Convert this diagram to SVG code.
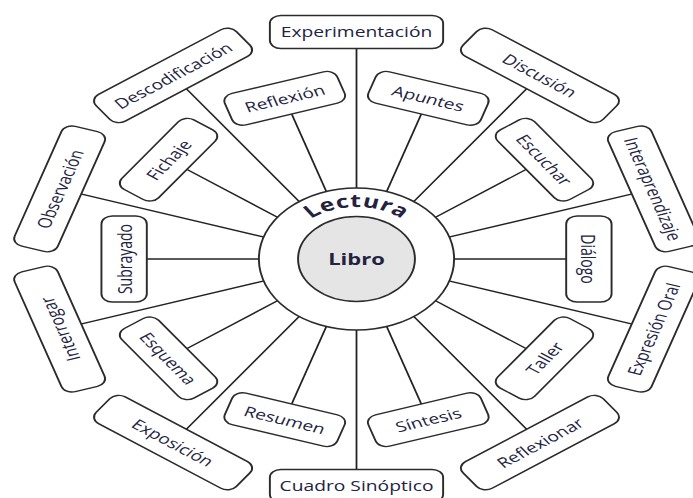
<svg xmlns="http://www.w3.org/2000/svg" width="693" height="498" viewBox="0 0 693 498">
<style>
.box{fill:#fff;stroke:#2b2b2b;stroke-width:1.4}
.t{font-family:"Open Sans","Noto Sans","DejaVu Sans",sans-serif;font-size:14px;fill:#23233f;text-anchor:middle;dominant-baseline:central}
.ln{stroke:#222;stroke-width:1.3;fill:none}
.ring{fill:#fff;stroke:#2b2b2b;stroke-width:1.4}
.core{fill:#e5e5e5;stroke:#2b2b2b;stroke-width:1.4}
.bold{font-family:"Open Sans","Noto Sans","DejaVu Sans",sans-serif;font-weight:bold;fill:#23233f}
</style>
<defs>
<rect id="lg" class="box" x="-63" y="-16.5" width="126" height="33" rx="8"/>
<rect id="sm" class="box" x="-43" y="-16.5" width="86" height="33" rx="8"/>
<path id="arc" d="M -52,0 A 52,52 0 0 1 52,0"/>
</defs>
<rect width="693" height="498" fill="#fff"/>
<g transform="translate(356.5,259) scale(1.375,1)">
<g id="connectors" class="ln">
<line x1="60" y1="0" x2="215" y2="0" transform="rotate(270)"/>
<line x1="60" y1="0" x2="215" y2="0" transform="rotate(306)"/>
<line x1="60" y1="0" x2="215" y2="0" transform="rotate(342)"/>
<line x1="60" y1="0" x2="215" y2="0" transform="rotate(18)"/>
<line x1="60" y1="0" x2="215" y2="0" transform="rotate(54)"/>
<line x1="60" y1="0" x2="215" y2="0" transform="rotate(90)"/>
<line x1="60" y1="0" x2="215" y2="0" transform="rotate(126)"/>
<line x1="60" y1="0" x2="215" y2="0" transform="rotate(162)"/>
<line x1="60" y1="0" x2="215" y2="0" transform="rotate(198)"/>
<line x1="60" y1="0" x2="215" y2="0" transform="rotate(234)"/>
<line x1="60" y1="0" x2="157" y2="0" transform="rotate(288)"/>
<line x1="60" y1="0" x2="157" y2="0" transform="rotate(324)"/>
<line x1="60" y1="0" x2="157" y2="0" transform="rotate(0)"/>
<line x1="60" y1="0" x2="157" y2="0" transform="rotate(36)"/>
<line x1="60" y1="0" x2="157" y2="0" transform="rotate(72)"/>
<line x1="60" y1="0" x2="157" y2="0" transform="rotate(108)"/>
<line x1="60" y1="0" x2="157" y2="0" transform="rotate(144)"/>
<line x1="60" y1="0" x2="157" y2="0" transform="rotate(180)"/>
<line x1="60" y1="0" x2="157" y2="0" transform="rotate(216)"/>
<line x1="60" y1="0" x2="157" y2="0" transform="rotate(252)"/>
</g>
<g id="experimentacion" transform="translate(0,-227)"><use href="#lg"/><text class="t">Experimentación</text></g>
<g id="discusion" transform="translate(133.4,-183.6) rotate(36)"><use href="#lg"/><text class="t">Discusión</text></g>
<g id="interaprendizaje" transform="translate(215.9,-70.1) rotate(72)"><use href="#lg"/><text class="t">Interaprendizaje</text></g>
<g id="expresion-oral" transform="translate(215.9,70.1) rotate(-72)"><use href="#lg"/><text class="t">Expresión Oral</text></g>
<g id="reflexionar" transform="translate(133.4,183.6) rotate(-36)"><use href="#lg"/><text class="t">Reflexionar</text></g>
<g id="cuadro-sinoptico" transform="translate(0,227)"><use href="#lg"/><text class="t">Cuadro Sinóptico</text></g>
<g id="exposicion" transform="translate(-133.4,183.6) rotate(36)"><use href="#lg"/><text class="t">Exposición</text></g>
<g id="interrogar" transform="translate(-215.9,70.1) rotate(-108)"><use href="#lg"/><text class="t">Interrogar</text></g>
<g id="observacion" transform="translate(-215.9,-70.1) rotate(-72)"><use href="#lg"/><text class="t">Observación</text></g>
<g id="descodificacion" transform="translate(-133.4,-183.6) rotate(-36)"><use href="#lg"/><text class="t">Descodificación</text></g>
<g id="apuntes" transform="translate(52.2,-160.7) rotate(18)"><use href="#sm"/><text class="t">Apuntes</text></g>
<g id="escuchar" transform="translate(136.7,-99.3) rotate(54)"><use href="#sm"/><text class="t">Escuchar</text></g>
<g id="dialogo" transform="translate(169,0) rotate(90)"><use href="#sm"/><text class="t">Diálogo</text></g>
<g id="taller" transform="translate(136.7,99.3) rotate(-54)"><use href="#sm"/><text class="t">Taller</text></g>
<g id="sintesis" transform="translate(52.2,160.7) rotate(-18)"><use href="#sm"/><text class="t">Síntesis</text></g>
<g id="resumen" transform="translate(-52.2,160.7) rotate(18)"><use href="#sm"/><text class="t">Resumen</text></g>
<g id="esquema" transform="translate(-136.7,99.3) rotate(54)"><use href="#sm"/><text class="t">Esquema</text></g>
<g id="subrayado" transform="translate(-169,0) rotate(-90)"><use href="#sm"/><text class="t">Subrayado</text></g>
<g id="fichaje" transform="translate(-136.7,-99.3) rotate(-54)"><use href="#sm"/><text class="t">Fichaje</text></g>
<g id="reflexion" transform="translate(-52.2,-160.7) rotate(-18)"><use href="#sm"/><text class="t">Reflexión</text></g>
<g id="lectura">
<circle class="ring" cx="0" cy="0" r="71"/>
<text class="bold" font-size="18" letter-spacing="0.4"><textPath href="#arc" startOffset="50%" text-anchor="middle">Lectura</textPath></text>
</g>
<g id="libro">
<circle class="core" cx="0" cy="0" r="42.5"/>
<text class="bold" x="0" y="6" font-size="16" text-anchor="middle">Libro</text>
</g>
</g>
</svg>
